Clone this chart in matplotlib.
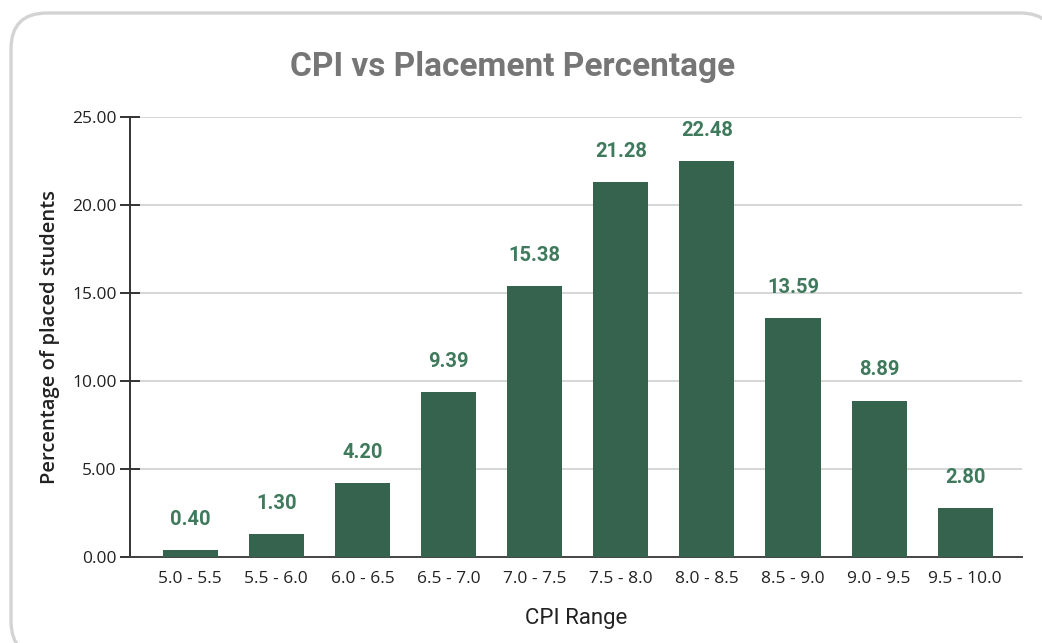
import matplotlib
matplotlib.use("Agg")
import matplotlib.pyplot as plt
from matplotlib.patches import FancyBboxPatch

categories = ["5.0 - 5.5", "5.5 - 6.0", "6.0 - 6.5", "6.5 - 7.0", "7.0 - 7.5",
              "7.5 - 8.0", "8.0 - 8.5", "8.5 - 9.0", "9.0 - 9.5", "9.5 - 10.0"]
values = [0.40, 1.30, 4.20, 9.39, 15.38, 21.28, 22.48, 13.59, 8.89, 2.80]
yticks = [0, 5, 10, 15, 20, 25]

W, H = 1042, 643
fig = plt.figure(figsize=(W / 100, H / 100), dpi=100)

# card border (pixel coordinates, extends past right/bottom edges)
card = FancyBboxPatch((11, -14), 1045, (H - 13) + 14,
                      boxstyle="round,pad=0,rounding_size=36",
                      transform=None, facecolor="white",
                      edgecolor="#d3d3d3", linewidth=2.4, zorder=-5)
fig.patches.append(card)

ax = fig.add_axes([130 / W, (H - 557) / H, (1022 - 130) / W, (557 - 117) / H])
ax.set_facecolor("none")
x = list(range(len(categories)))
bars = ax.bar(x, values, width=0.64, color="#35634d", zorder=3)
for xi, v in zip(x, values):
    ax.annotate(f"{v:.2f}", (xi, v), xytext=(0, 22), textcoords="offset points",
                ha="center", va="center", fontsize=14.5, fontweight="bold",
                color="#3f7a5c", family="Roboto", zorder=4)

ax.set_xlim(-0.70, 9.66)
ax.set_ylim(0, 25)
ax.set_yticks(yticks)
ax.set_yticklabels([f"{t:.2f}" for t in yticks], fontsize=12.5, family="Open Sans", color="#222222")
ax.set_xticks(x)
ax.set_xticklabels(categories, fontsize=12.5, family="Open Sans", color="#222222")
ax.grid(axis="y", color="#cfcfcf", linewidth=1.2, zorder=0)
ax.tick_params(axis="y", direction="inout", length=15, width=1.4, color="#333333", pad=2)
ax.tick_params(axis="x", length=0, pad=10)
for s in ["top", "right"]:
    ax.spines[s].set_visible(False)
ax.spines["left"].set_color("#333333")
ax.spines["left"].set_linewidth(1.4)
ax.spines["bottom"].set_color("#444444")
ax.spines["bottom"].set_linewidth(1.4)

ax.set_ylabel("Percentage of placed students", fontsize=14.5, fontweight="semibold",
              family="Open Sans", color="#222222", labelpad=9)
ax.set_xlabel("CPI Range", fontsize=16, family="Roboto", color="#222222", labelpad=15)

fig.text(513 / W, 1 - 67 / H, "CPI vs Placement Percentage", ha="center", va="center",
         fontsize=24, fontweight="bold", family="Roboto", color="#767676")

fig.savefig("out.png", dpi=100)
